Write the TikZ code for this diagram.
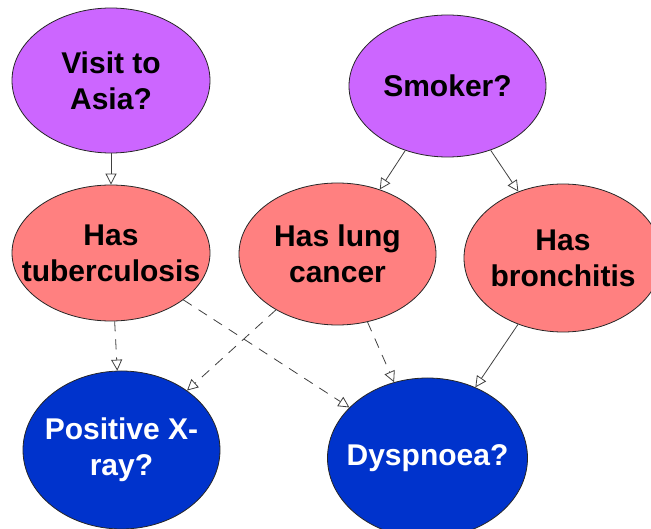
\documentclass[tikz,border=0pt]{standalone}
\usepackage{fontspec}
\setmainfont{Liberation Sans}
\usetikzlibrary{shapes.geometric,arrows.meta}
\definecolor{purp}{HTML}{CC66FF}
\definecolor{salmon}{HTML}{FF8080}
\definecolor{dblue}{HTML}{0033CC}
\definecolor{edgec}{HTML}{404040}
\begin{document}
\begin{tikzpicture}[x=1pt,y=-1pt,
 nd/.style={ellipse, draw=black!85, line width=0.8pt, inner sep=0pt},
 txt/.style={font=\bfseries\fontsize{30}{36}\selectfont, align=center, inner sep=0pt},
 wtxt/.style={txt, text=white},
 link/.style={draw=edgec, line width=0.8pt, -{Triangle[open,length=11pt,width=11pt]}},
 dlink/.style={link, dash pattern=on 10pt off 8pt}]
\useasboundingbox (0,0) rectangle (651,529);
\clip (0,0) rectangle (651,529);
\node[nd, fill=purp, minimum width=198pt, minimum height=145pt, label={[txt]center:Visit to\\Asia?}] (asia) at (111,80.5) {};
\node[nd, fill=purp, minimum width=197pt, minimum height=142pt, label={[txt]center:Smoker?}] (smoke) at (447.5,86) {};
\node[nd, fill=salmon, minimum width=198pt, minimum height=136pt, label={[txt]center:Has\\tuberculosis}] (tb) at (111,253) {};
\node[nd, fill=salmon, minimum width=197pt, minimum height=142pt, label={[txt]center:Has lung\\cancer}] (lc) at (337.5,254) {};
\node[nd, fill=salmon, minimum width=198pt, minimum height=148pt, label={[txt]center:Has\\bronchitis}] (br) at (563,258) {};
\node[nd, fill=dblue, minimum width=197pt, minimum height=158pt, label={[wtxt]center:Positive X-\\ray?}] (xray) at (121.5,450) {};
\node[nd, fill=dblue, minimum width=200pt, minimum height=160pt, label={[wtxt]center:Dyspnoea?}] (dysp) at (427.5,458) {};
\draw[link] (asia) -- (tb);
\draw[link] (smoke) -- (lc);
\draw[link] (smoke) -- (br);
\draw[dlink] (tb) -- (xray);
\draw[dlink] (tb) -- (dysp);
\draw[dlink] (lc) -- (xray);
\draw[dlink] (lc) -- (dysp);
\draw[link] (br) -- (dysp);
\end{tikzpicture}
\end{document}
